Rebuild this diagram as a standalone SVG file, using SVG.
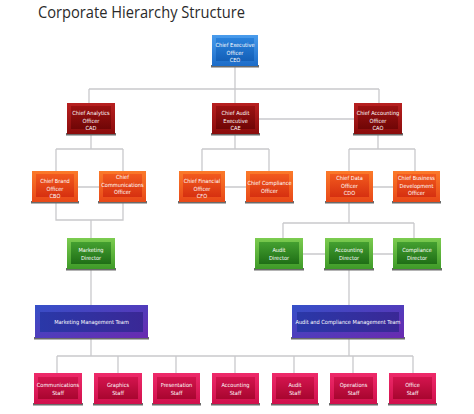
<svg xmlns="http://www.w3.org/2000/svg" width="474" height="414" viewBox="0 0 474 414">
<defs>
<linearGradient id="bo" x1="0" y1="0" x2="0" y2="1"><stop offset="0" stop-color="#4a9cec"/><stop offset="1" stop-color="#1c6cc8"/></linearGradient>
<linearGradient id="bi" x1="0" y1="0" x2="0" y2="1"><stop offset="0" stop-color="#2a82dc"/><stop offset="1" stop-color="#1460b8"/></linearGradient>
<linearGradient id="ro" x1="0" y1="0" x2="0" y2="1"><stop offset="0" stop-color="#b82020"/><stop offset="1" stop-color="#8a0c0c"/></linearGradient>
<linearGradient id="ri" x1="0" y1="0" x2="0" y2="1"><stop offset="0" stop-color="#9c1212"/><stop offset="1" stop-color="#700606"/></linearGradient>
<linearGradient id="oo" x1="0" y1="0" x2="0" y2="1"><stop offset="0" stop-color="#fb7a2a"/><stop offset="1" stop-color="#e84818"/></linearGradient>
<linearGradient id="oi" x1="0" y1="0" x2="0" y2="1"><stop offset="0" stop-color="#f25a1e"/><stop offset="1" stop-color="#d63010"/></linearGradient>
<linearGradient id="go" x1="0" y1="0" x2="0" y2="1"><stop offset="0" stop-color="#7ccc50"/><stop offset="1" stop-color="#3e9a28"/></linearGradient>
<linearGradient id="gi" x1="0" y1="0" x2="0" y2="1"><stop offset="0" stop-color="#44a030"/><stop offset="1" stop-color="#1f6e16"/></linearGradient>
<linearGradient id="po" x1="0" y1="0" x2="1" y2="1"><stop offset="0" stop-color="#3550c8"/><stop offset="1" stop-color="#6a2ab0"/></linearGradient>
<linearGradient id="pi" x1="0" y1="0" x2="1" y2="0"><stop offset="0" stop-color="#2a38a8"/><stop offset="1" stop-color="#3a2896"/></linearGradient>
<linearGradient id="mo" x1="0" y1="0" x2="0" y2="1"><stop offset="0" stop-color="#ee2a6a"/><stop offset="1" stop-color="#d0104c"/></linearGradient>
<linearGradient id="mi" x1="0" y1="0" x2="0" y2="1"><stop offset="0" stop-color="#d4144e"/><stop offset="1" stop-color="#a8062f"/></linearGradient>
</defs>
<style>
.title{font-family:"Open Sans","Liberation Sans",sans-serif;font-size:16px;fill:#2a2a2a}
.n text{font-family:"Liberation Sans Narrow","DejaVu Sans Condensed","Liberation Sans",sans-serif;font-stretch:condensed;font-size:5.6px;fill:#ffffff;text-anchor:middle}
.n text .b{font-weight:bold}
.base{fill:#6a6a6a}
.blue .o{fill:url(#bo)} .blue .i{fill:url(#bi)}
.red .o{fill:url(#ro)} .red .i{fill:url(#ri)}
.org .o{fill:url(#oo)} .org .i{fill:url(#oi)}
.grn .o{fill:url(#go)} .grn .i{fill:url(#gi)}
.pur .o{fill:url(#po)} .pur .i{fill:url(#pi)}
.mag .o{fill:url(#mo)} .mag .i{fill:url(#mi)}
#connectors path{fill:none;stroke:#c9c9cc;stroke-width:1.3}
</style>
<rect width="474" height="414" fill="#ffffff"/>
<text class="title" x="38" y="18" textLength="207" lengthAdjust="spacingAndGlyphs">Corporate Hierarchy Structure</text>

<g id="connectors">
<path d="M235 66V89M89 89H379M89 89V103M235 89V103M379 89V103"/>
<path d="M259 119H354"/>
<path d="M91 134V149M56 149H123M56 149V171M123 149V171"/>
<path d="M235 134V149M202 149H269M202 149V171M269 149V171"/>
<path d="M378 134V149M349 149H415M349 149V171M415 149V171"/>
<path d="M78 187H99M225 187H246M373 187H393"/>
<path d="M56 202V220H123V202M91 220V238"/>
<path d="M349 202V223M283 223H414M283 223V238M414 223V238"/>
<path d="M303 254H325M373 254H393"/>
<path d="M91 269V305M349 269V305"/>
<path d="M91 338V356M349 338V356M57 356H413M57 356V373M118 356V373M176 356V373M235 356V373M294 356V373M353 356V373M413 356V373"/>
</g>

<g id="ceo" class="n blue"><rect class="base" x="211" y="65" width="48" height="2.5"/><rect class="o" x="212" y="35" width="46" height="31"/><rect class="i" x="216" y="38" width="38" height="23"/><text x="235" y="47">Chief Executive</text><text x="235" y="54.5">Officer</text><text x="235" y="62" class="b">CEO</text></g>

<g id="cad" class="n red"><rect class="base" x="66" y="133" width="50" height="2.5"/><rect class="o" x="67" y="103" width="48" height="31"/><rect class="i" x="71" y="106" width="40" height="23"/><text x="91" y="115">Chief Analytics</text><text x="91" y="122.5">Officer</text><text x="91" y="130" class="b">CAD</text></g>
<g id="cae" class="n red"><rect class="base" x="211" y="133" width="49" height="2.5"/><rect class="o" x="212" y="103" width="47" height="31"/><rect class="i" x="216" y="106" width="39" height="23"/><text x="235.5" y="115">Chief Audit</text><text x="235.5" y="122.5">Executive</text><text x="235.5" y="130" class="b">CAE</text></g>
<g id="cao" class="n red"><rect class="base" x="353" y="133" width="50" height="2.5"/><rect class="o" x="354" y="103" width="48" height="31"/><rect class="i" x="358" y="106" width="40" height="23"/><text x="378" y="115">Chief Accounting</text><text x="378" y="122.5">Officer</text><text x="378" y="130" class="b">CAO</text></g>

<g id="cbo" class="n org"><rect class="base" x="31" y="201" width="48" height="2.5"/><rect class="o" x="32" y="171" width="46" height="31"/><rect class="i" x="36" y="174" width="38" height="23"/><text x="55" y="183">Chief Brand</text><text x="55" y="190.5">Officer</text><text x="55" y="198" class="b">CBO</text></g>
<g id="cco" class="n org"><rect class="base" x="98" y="201" width="49" height="2.5"/><rect class="o" x="99" y="171" width="47" height="31"/><rect class="i" x="103" y="174" width="39" height="23"/><text x="122.5" y="179">Chief</text><text x="122.5" y="186.5">Communications</text><text x="122.5" y="194">Officer</text></g>
<g id="cfo" class="n org"><rect class="base" x="178" y="201" width="48" height="2.5"/><rect class="o" x="179" y="171" width="46" height="31"/><rect class="i" x="183" y="174" width="38" height="23"/><text x="202" y="183">Chief Financial</text><text x="202" y="190.5">Officer</text><text x="202" y="198" class="b">CFO</text></g>
<g id="ccmpo" class="n org"><rect class="base" x="245" y="201" width="49" height="2.5"/><rect class="o" x="246" y="171" width="47" height="31"/><rect class="i" x="250" y="174" width="39" height="23"/><text x="269.5" y="185">Chief Compliance</text><text x="269.5" y="192.5">Officer</text></g>
<g id="cdo" class="n org"><rect class="base" x="325" y="201" width="49" height="2.5"/><rect class="o" x="326" y="171" width="47" height="31"/><rect class="i" x="330" y="174" width="39" height="23"/><text x="349.5" y="180">Chief Data</text><text x="349.5" y="187.5">Officer</text><text x="349.5" y="195" class="b">CDO</text></g>
<g id="cbdo" class="n org"><rect class="base" x="392" y="201" width="49" height="2.5"/><rect class="o" x="393" y="171" width="47" height="31"/><rect class="i" x="397" y="174" width="39" height="23"/><text x="416.5" y="180">Chief Business</text><text x="416.5" y="187.5">Development</text><text x="416.5" y="195">Officer</text></g>

<g id="mkt-dir" class="n grn"><rect class="base" x="66" y="268" width="50" height="2.5"/><rect class="o" x="67" y="238" width="48" height="31"/><rect class="i" x="71" y="242" width="40" height="22"/><text x="91" y="252">Marketing</text><text x="91" y="259.5">Director</text></g>
<g id="audit-dir" class="n grn"><rect class="base" x="254" y="268" width="50" height="2.5"/><rect class="o" x="255" y="238" width="48" height="31"/><rect class="i" x="259" y="242" width="40" height="22"/><text x="279" y="252">Audit</text><text x="279" y="259.5">Director</text></g>
<g id="acct-dir" class="n grn"><rect class="base" x="324" y="268" width="50" height="2.5"/><rect class="o" x="325" y="238" width="48" height="31"/><rect class="i" x="329" y="242" width="40" height="22"/><text x="349" y="252">Accounting</text><text x="349" y="259.5">Director</text></g>
<g id="comp-dir" class="n grn"><rect class="base" x="392" y="268" width="50" height="2.5"/><rect class="o" x="393" y="238" width="48" height="31"/><rect class="i" x="397" y="242" width="40" height="22"/><text x="417" y="252">Compliance</text><text x="417" y="259.5">Director</text></g>

<g id="mmt" class="n pur"><rect class="base" x="34" y="337" width="115" height="2.5"/><rect class="o" x="35" y="305" width="113" height="33"/><rect class="i" x="40" y="312" width="103" height="20"/><text x="91.5" y="324">Marketing Management Team</text></g>
<g id="acmt" class="n pur"><rect class="base" x="291" y="337" width="114" height="2.5"/><rect class="o" x="292" y="305" width="112" height="33"/><rect class="i" x="297" y="312" width="102" height="20"/><text x="348" y="324">Audit and Compliance Management Team</text></g>

<g id="comm-staff" class="n mag"><rect class="base" x="33" y="403" width="50" height="2.5"/><rect class="o" x="34" y="373" width="48" height="31"/><rect class="i" x="38" y="377" width="40" height="22"/><text x="58" y="387">Communications</text><text x="58" y="394.5">Staff</text></g>
<g id="graphics-staff" class="n mag"><rect class="base" x="93" y="403" width="50" height="2.5"/><rect class="o" x="94" y="373" width="48" height="31"/><rect class="i" x="98" y="377" width="40" height="22"/><text x="118" y="387">Graphics</text><text x="118" y="394.5">Staff</text></g>
<g id="pres-staff" class="n mag"><rect class="base" x="152" y="403" width="49" height="2.5"/><rect class="o" x="153" y="373" width="47" height="31"/><rect class="i" x="157" y="377" width="39" height="22"/><text x="176.5" y="387">Presentation</text><text x="176.5" y="394.5">Staff</text></g>
<g id="acct-staff" class="n mag"><rect class="base" x="211" y="403" width="49" height="2.5"/><rect class="o" x="212" y="373" width="47" height="31"/><rect class="i" x="216" y="377" width="39" height="22"/><text x="235.5" y="387">Accounting</text><text x="235.5" y="394.5">Staff</text></g>
<g id="audit-staff" class="n mag"><rect class="base" x="271" y="403" width="48" height="2.5"/><rect class="o" x="272" y="373" width="46" height="31"/><rect class="i" x="276" y="377" width="38" height="22"/><text x="295" y="387">Audit</text><text x="295" y="394.5">Staff</text></g>
<g id="ops-staff" class="n mag"><rect class="base" x="329" y="403" width="49" height="2.5"/><rect class="o" x="330" y="373" width="47" height="31"/><rect class="i" x="334" y="377" width="39" height="22"/><text x="353.5" y="387">Operations</text><text x="353.5" y="394.5">Staff</text></g>
<g id="office-staff" class="n mag"><rect class="base" x="388" y="403" width="49" height="2.5"/><rect class="o" x="389" y="373" width="47" height="31"/><rect class="i" x="393" y="377" width="39" height="22"/><text x="412.5" y="387">Office</text><text x="412.5" y="394.5">Staff</text></g>
</svg>
